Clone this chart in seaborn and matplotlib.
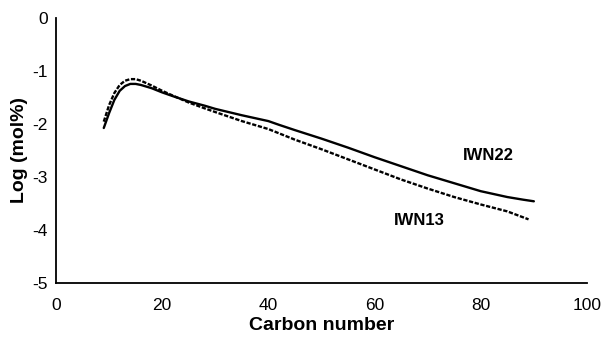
"""
Log(mol%) vs carbon number for IWN22 and IWN13.
"""
import numpy as np
import pandas as pd
import matplotlib
matplotlib.use('Agg')
import matplotlib.pyplot as plt
import seaborn as sns

# Values
carbon_22 = [9, 10, 11, 12, 13, 14, 15, 16, 18, 20, 22, 25, 28, 30, 35, 40,
             42, 45, 50, 55, 60, 65, 70, 75, 80, 85, 88, 90]
iwn22 = [-2.08, -1.80, -1.55, -1.38, -1.29, -1.25, -1.25, -1.27, -1.33, -1.41,
         -1.48, -1.58, -1.66, -1.72, -1.84, -1.95, -2.02, -2.12, -2.28, -2.45,
         -2.63, -2.80, -2.97, -3.12, -3.27, -3.38, -3.43, -3.46]

carbon_13 = [9, 10, 11, 12, 13, 14, 15, 16, 18, 20, 22, 25, 28, 30, 35, 40,
             45, 50, 55, 60, 65, 70, 75, 80, 85, 89]
iwn13 = [-1.96, -1.65, -1.42, -1.27, -1.19, -1.16, -1.16, -1.19, -1.28, -1.38,
         -1.47, -1.60, -1.71, -1.78, -1.95, -2.10, -2.30, -2.48, -2.67, -2.86,
         -3.05, -3.22, -3.38, -3.52, -3.65, -3.80]

x_ticks = [0, 20, 40, 60, 80, 100]
y_ticks = [0, -1, -2, -3, -4, -5]

df = pd.concat([
    pd.DataFrame({'carbon': carbon_22, 'logmol': iwn22, 'sample': 'IWN22'}),
    pd.DataFrame({'carbon': carbon_13, 'logmol': iwn13, 'sample': 'IWN13'}),
], ignore_index=True)

sns.set_style('white')
plt.rcParams['font.family'] = ['Liberation Sans', 'DejaVu Sans']
plt.rcParams['text.color'] = 'black'
plt.rcParams['axes.labelcolor'] = 'black'

fig = plt.figure(figsize=(6.02, 3.37), dpi=100)
ax = fig.add_axes([0.093, 0.160, 0.882, 0.788])

sns.lineplot(data=df, x='carbon', y='logmol', hue='sample', style='sample',
             palette={'IWN22': 'black', 'IWN13': 'black'},
             dashes={'IWN22': '', 'IWN13': (1.8, 0.7)},
             linewidth=1.7, legend=False, ax=ax)

ax.text(81.4, -2.59, 'IWN22', fontsize=12, fontweight='bold',
        ha='center', va='center', color='black')
ax.text(68.5, -3.83, 'IWN13', fontsize=12, fontweight='bold',
        ha='center', va='center', color='black')

ax.set_xlim(0, 100)
ax.set_ylim(-5, 0)
ax.set_xticks(x_ticks)
ax.set_yticks(y_ticks)
ax.set_xticklabels([str(t) for t in x_ticks])
ax.set_yticklabels([str(t) for t in y_ticks])
ax.set_xlabel('Carbon number', fontsize=14, fontweight='bold', labelpad=3)
ax.set_ylabel('Log (mol%)', fontsize=14, fontweight='bold', labelpad=3)

sns.despine(ax=ax)
for side in ('left', 'bottom'):
    ax.spines[side].set_color('black')
    ax.spines[side].set_linewidth(1.3)
ax.tick_params(axis='y', direction='out', length=4, width=1.3,
               labelsize=12.5, colors='black', pad=2)
ax.tick_params(axis='x', direction='inout', length=7, width=1.3,
               labelsize=12.5, colors='black', pad=7)

fig.savefig('out.png', dpi=100)
